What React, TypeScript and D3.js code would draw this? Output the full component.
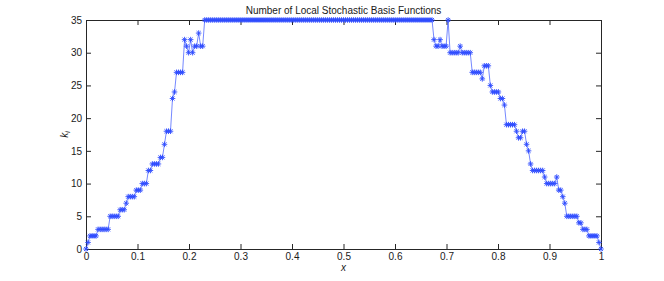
import { useEffect, useRef } from "react";
import * as d3 from "d3";

// number of local basis functions at each of the 257 mesh nodes (x = i/256)
const kValues: number[] = [
  0, 1, 2, 2, 2, 2, 3, 3, 3, 3, 3, 3, 5, 5, 5, 5, 5, 6, 6, 6,
  7, 8, 8, 8, 8, 9, 9, 9, 10, 10, 10, 12, 12, 13, 13, 13, 13, 14, 14, 16,
  18, 18, 18, 23, 24, 27, 27, 27, 27, 32, 31, 30, 32, 30, 31, 31, 33, 31, 31, 35,
  35, 35, 35, 35, 35, 35, 35, 35, 35, 35, 35, 35, 35, 35, 35, 35, 35, 35, 35, 35,
  35, 35, 35, 35, 35, 35, 35, 35, 35, 35, 35, 35, 35, 35, 35, 35, 35, 35, 35, 35,
  35, 35, 35, 35, 35, 35, 35, 35, 35, 35, 35, 35, 35, 35, 35, 35, 35, 35, 35, 35,
  35, 35, 35, 35, 35, 35, 35, 35, 35, 35, 35, 35, 35, 35, 35, 35, 35, 35, 35, 35,
  35, 35, 35, 35, 35, 35, 35, 35, 35, 35, 35, 35, 35, 35, 35, 35, 35, 35, 35, 35,
  35, 35, 35, 35, 35, 35, 35, 35, 35, 35, 35, 35, 35, 32, 31, 31, 32, 31, 31, 31,
  35, 30, 30, 30, 30, 30, 31, 30, 30, 30, 30, 30, 27, 27, 27, 27, 27, 26, 28, 28,
  28, 25, 24, 24, 24, 24, 23, 23, 22, 19, 19, 19, 19, 19, 18, 17, 17, 18, 18, 16,
  15, 13, 12, 12, 12, 12, 12, 12, 11, 10, 10, 10, 10, 10, 11, 9, 9, 8, 7, 5,
  5, 5, 5, 5, 5, 4, 4, 3, 3, 3, 2, 2, 2, 2, 2, 1, 0,
];
const xTicks = [0, 0.1, 0.2, 0.3, 0.4, 0.5, 0.6, 0.7, 0.8, 0.9, 1];
const yTicks = [0, 5, 10, 15, 20, 25, 30, 35];

export default function App() {
  const svgRef = useRef<SVGSVGElement>(null);

  useEffect(() => {
    const svg = svgRef.current;
    if (!svg) return;
    d3.select(svg).selectAll("*").remove();

    const width = 664;
    const height = 281;
    const margin = { top: 20, right: 63, bottom: 32, left: 86 };
    const innerW = width - margin.left - margin.right;
    const innerH = height - margin.top - margin.bottom;
    const font = "Helvetica, 'Liberation Sans', Arial, sans-serif";

    const points = kValues.map((k, i) => ({ x: i / (kValues.length - 1), k }));

    const xScale = d3.scaleLinear().domain([0, 1]).range([0, innerW]);
    const yScale = d3.scaleLinear().domain([0, 35]).range([innerH, 0]);

    const g = d3
      .select(svg)
      .append("g")
      .attr("transform", `translate(${margin.left},${margin.top})`);

    // box + inward ticks on all four sides, MATLAB style
    const styleAxis = (sel: d3.Selection<SVGGElement, unknown, null, undefined>) => {
      sel.select(".domain").attr("stroke", "#262626").attr("stroke-width", 1);
      sel.selectAll(".tick line").attr("stroke", "#262626");
      sel.selectAll("text").attr("font-family", font).attr("font-size", 10).attr("fill", "#1a1a1a");
    };

    g.append("g")
      .attr("transform", `translate(0,${innerH})`)
      .call(d3.axisBottom(xScale).tickValues(xTicks).tickSize(-5).tickSizeOuter(0).tickPadding(4).tickFormat(d3.format("")))
      .call(styleAxis);

    g.append("g")
      .call(d3.axisTop(xScale).tickValues(xTicks).tickSize(-5).tickSizeOuter(0).tickFormat(() => ""))
      .call(styleAxis);

    g.append("g")
      .call(d3.axisLeft(yScale).tickValues(yTicks).tickSize(-5).tickSizeOuter(0).tickPadding(4))
      .call(styleAxis);

    g.append("g")
      .attr("transform", `translate(${innerW},0)`)
      .call(d3.axisRight(yScale).tickValues(yTicks).tickSize(-5).tickSizeOuter(0).tickFormat(() => ""))
      .call(styleAxis);

    // connecting line
    const line = d3
      .line<{ x: number; k: number }>()
      .x((d) => xScale(d.x))
      .y((d) => yScale(d.k));

    g.append("path")
      .datum(points)
      .attr("d", line)
      .attr("fill", "none")
      .attr("stroke", "#3a55ff")
      .attr("stroke-width", 0.7);

    // asterisk markers
    const s = 2.8;
    const d45 = s * 0.72;
    const star = `M${-s},0L${s},0M0,${-s}L0,${s}M${-d45},${-d45}L${d45},${d45}M${-d45},${d45}L${d45},${-d45}`;
    g.append("g")
      .selectAll("path")
      .data(points)
      .enter()
      .append("path")
      .attr("transform", (d) => `translate(${xScale(d.x)},${yScale(d.k)})`)
      .attr("d", star)
      .attr("fill", "none")
      .attr("stroke", "#2f4cff")
      .attr("stroke-width", 0.9);

    // title and axis labels
    d3.select(svg)
      .append("text")
      .attr("x", margin.left + innerW / 2)
      .attr("y", 14)
      .attr("text-anchor", "middle")
      .attr("font-family", font)
      .attr("font-size", 10)
      .attr("fill", "#1a1a1a")
      .text("Number of Local Stochastic Basis Functions");

    d3.select(svg)
      .append("text")
      .attr("x", margin.left + innerW / 2)
      .attr("y", 271)
      .attr("text-anchor", "middle")
      .attr("font-family", font)
      .attr("font-size", 10)
      .attr("font-style", "italic")
      .attr("fill", "#1a1a1a")
      .text("x");

    const yLabel = d3
      .select(svg)
      .append("text")
      .attr("transform", `translate(68,${margin.top + innerH / 2}) rotate(-90)`)
      .attr("text-anchor", "middle")
      .attr("font-family", font)
      .attr("font-size", 10)
      .attr("font-style", "italic")
      .attr("fill", "#1a1a1a");
    yLabel.append("tspan").text("k");
    yLabel.append("tspan").attr("font-size", 7).attr("dy", 2).text("i");
  }, []);

  return (
    <svg
      ref={svgRef}
      width={664}
      height={281}
      style={{ position: "absolute", left: 0, top: 0, display: "block", background: "#fff" }}
    />
  );
}
